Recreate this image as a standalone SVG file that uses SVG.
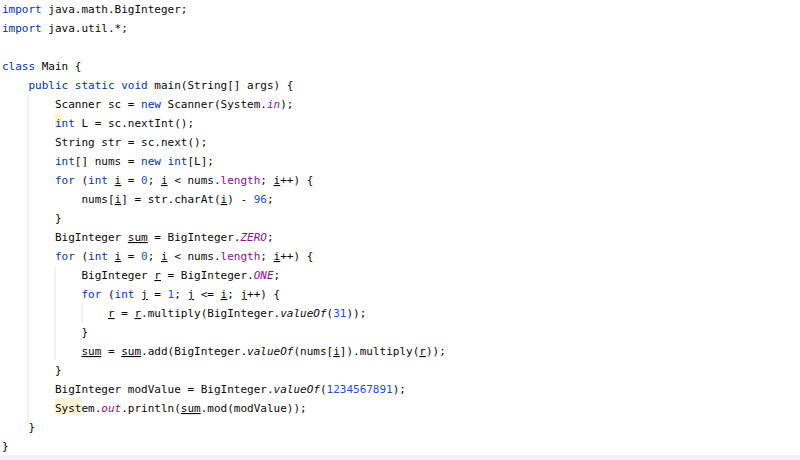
<svg xmlns="http://www.w3.org/2000/svg" width="800" height="460" viewBox="0 0 800 460">
<style>
text{font-family:"DejaVu Sans Mono","Liberation Mono",monospace;font-size:11px;fill:#080808;white-space:pre}
.k{fill:#0033b3}.n{fill:#1750eb}.f{fill:#871094;font-style:italic}.m{font-style:italic}.u{text-decoration:underline}
.g{stroke:#e4e4e4;stroke-width:1}
</style>
<rect width="800" height="460" fill="#fff"/>
<rect x="0" y="455" width="800" height="5" fill="#f0f4fa"/>
<rect x="55" y="113" width="7" height="15" fill="#fcf3d4"/>
<rect x="55" y="398" width="27" height="16" fill="#fcf3d4"/>
<line class="g" x1="28" y1="95" x2="28" y2="425"/>
<line class="g" x1="55" y1="266" x2="55" y2="360"/>
<line class="g" x1="82" y1="304" x2="82" y2="322"/>
<g>
<text x="2" y="13"><tspan class="k">import</tspan> java.math.BigInteger;</text>
<text x="2" y="32"><tspan class="k">import</tspan> java.util.*;</text>
<text x="2" y="70"><tspan class="k">class</tspan> Main {</text>
<text x="2" y="89">    <tspan class="k">public static void</tspan> main(String[] args) {</text>
<text x="2" y="108">        Scanner sc = <tspan class="k">new</tspan> Scanner(System.<tspan class="f">in</tspan>);</text>
<text x="2" y="127">        <tspan class="k">int</tspan> L = sc.nextInt();</text>
<text x="2" y="146">        String str = sc.next();</text>
<text x="2" y="165">        <tspan class="k">int</tspan>[] nums = <tspan class="k">new int</tspan>[L];</text>
<text x="2" y="184">        <tspan class="k">for</tspan> (<tspan class="k">int</tspan> <tspan class="u">i</tspan> = <tspan class="n">0</tspan>; <tspan class="u">i</tspan> &lt; nums.<tspan class="f" style="font-style:normal">length</tspan>; <tspan class="u">i</tspan>++) {</text>
<text x="2" y="203">            nums[<tspan class="u">i</tspan>] = str.charAt(<tspan class="u">i</tspan>) - <tspan class="n">96</tspan>;</text>
<text x="2" y="222">        }</text>
<text x="2" y="241">        BigInteger <tspan class="u">sum</tspan> = BigInteger.<tspan class="f">ZERO</tspan>;</text>
<text x="2" y="260">        <tspan class="k">for</tspan> (<tspan class="k">int</tspan> <tspan class="u">i</tspan> = <tspan class="n">0</tspan>; <tspan class="u">i</tspan> &lt; nums.<tspan class="f" style="font-style:normal">length</tspan>; <tspan class="u">i</tspan>++) {</text>
<text x="2" y="279">            BigInteger <tspan class="u">r</tspan> = BigInteger.<tspan class="f">ONE</tspan>;</text>
<text x="2" y="298">            <tspan class="k">for</tspan> (<tspan class="k">int</tspan> <tspan class="u">j</tspan> = <tspan class="n">1</tspan>; <tspan class="u">j</tspan> &lt;= <tspan class="u">i</tspan>; <tspan class="u">j</tspan>++) {</text>
<text x="2" y="317">                <tspan class="u">r</tspan> = <tspan class="u">r</tspan>.multiply(BigInteger.<tspan class="m">valueOf</tspan>(<tspan class="n">31</tspan>));</text>
<text x="2" y="336">            }</text>
<text x="2" y="355">            <tspan class="u">sum</tspan> = <tspan class="u">sum</tspan>.add(BigInteger.<tspan class="m">valueOf</tspan>(nums[<tspan class="u">i</tspan>]).multiply(<tspan class="u">r</tspan>));</text>
<text x="2" y="374">        }</text>
<text x="2" y="393">        BigInteger modValue = BigInteger.<tspan class="m">valueOf</tspan>(<tspan class="n">1234567891</tspan>);</text>
<text x="2" y="412">        System.<tspan class="f">out</tspan>.println(<tspan class="u">sum</tspan>.mod(modValue));</text>
<text x="2" y="431">    }</text>
<text x="2" y="450">}</text>
</g>
</svg>
